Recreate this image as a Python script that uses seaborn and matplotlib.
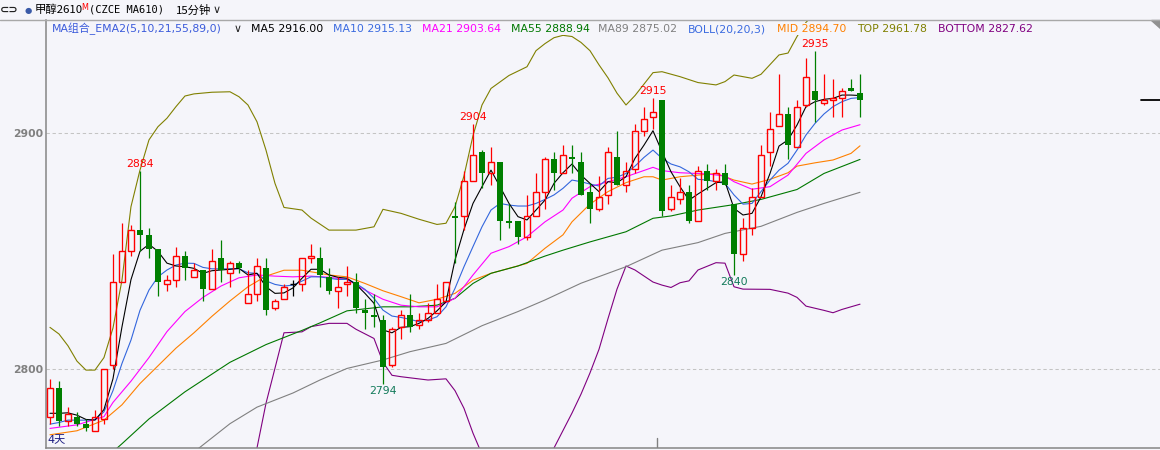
import numpy as np
import pandas as pd
import matplotlib.pyplot as plt
import seaborn as sns
from matplotlib.lines import Line2D
from matplotlib.patches import Polygon

W, H = 1160, 450
BG = '#f5f5fa'
UP = '#ff0000'
DOWN = '#007f00'

# 15 minute candles, oldest first
opens = [2780, 2792, 2778, 2780, 2777, 2774, 2779, 2802, 2837, 2850,
         2859, 2857, 2851, 2836, 2838, 2848, 2839, 2842, 2834, 2847,
         2841, 2845, 2828, 2832, 2843, 2826, 2830, 2836, 2836, 2847,
         2847, 2839, 2833, 2836, 2837, 2825, 2823, 2821, 2802, 2818,
         2823, 2819, 2821, 2824, 2829, 2865, 2865, 2880, 2892, 2883,
         2888, 2863, 2863, 2856, 2865, 2875, 2889, 2883, 2890, 2888,
         2875, 2868, 2874, 2890, 2878, 2885, 2901, 2907, 2914, 2868,
         2872, 2875, 2863, 2884, 2880, 2883, 2870, 2849, 2860, 2873,
         2892, 2903, 2908, 2894, 2912, 2918, 2913, 2914, 2915, 2919,
         2917]
highs = [2796, 2795, 2784, 2782, 2779, 2783, 2800, 2849, 2862, 2861,
         2884, 2860, 2851, 2840, 2852, 2850, 2845, 2842, 2851, 2855,
         2846, 2846, 2842, 2847, 2847, 2830, 2836, 2838, 2847, 2853,
         2852, 2843, 2839, 2844, 2841, 2830, 2832, 2823, 2818, 2825,
         2832, 2824, 2828, 2836, 2837, 2871, 2884, 2904, 2893, 2894,
         2888, 2870, 2863, 2874, 2883, 2890, 2892, 2895, 2895, 2892,
         2879, 2882, 2894, 2901, 2888, 2904, 2911, 2915, 2914, 2878,
         2881, 2878, 2886, 2887, 2885, 2887, 2870, 2864, 2877, 2895,
         2909, 2925, 2911, 2914, 2932, 2935, 2925, 2923, 2919, 2923,
         2925]
lows = [2777, 2776, 2776, 2776, 2774, 2774, 2777, 2800, 2837, 2848,
        2850, 2847, 2831, 2833, 2835, 2838, 2839, 2829, 2834, 2837,
        2835, 2841, 2828, 2829, 2823, 2825, 2830, 2831, 2833, 2845,
        2835, 2832, 2826, 2831, 2824, 2817, 2818, 2794, 2801, 2813,
        2816, 2817, 2820, 2824, 2829, 2845, 2859, 2880, 2877, 2878,
        2855, 2860, 2853, 2855, 2865, 2868, 2876, 2883, 2883, 2874,
        2862, 2867, 2870, 2878, 2875, 2883, 2899, 2902, 2865, 2867,
        2870, 2862, 2863, 2876, 2876, 2878, 2840, 2846, 2857, 2873,
        2886, 2903, 2889, 2894, 2911, 2905, 2912, 2907, 2907, 2918,
        2907]
closes = [2792, 2778, 2781, 2777, 2775, 2780, 2800, 2837, 2850, 2859,
          2857, 2851, 2837, 2838, 2848, 2843, 2842, 2834, 2846, 2842,
          2845, 2843, 2832, 2844, 2825, 2829, 2835, 2836, 2847, 2848,
          2840, 2833, 2835, 2837, 2826, 2824, 2822, 2801, 2817, 2823,
          2818, 2821, 2824, 2830, 2837, 2864, 2880, 2891, 2883, 2888,
          2863, 2862, 2856, 2865, 2875, 2889, 2883, 2891, 2889, 2874,
          2868, 2873, 2892, 2878, 2884, 2901, 2906, 2909, 2867, 2873,
          2875, 2863, 2884, 2880, 2883, 2878, 2849, 2860, 2873, 2891,
          2902, 2908, 2895, 2911, 2924, 2914, 2914, 2915, 2918, 2918,
          2914]

# moving averages, one value per candle
ma5 = [2781.4, 2781.4, 2781.6, 2780.6, 2778.8, 2778.5, 2783.0, 2796.0, 2818.0, 2838.0,
       2850.0, 2853.0, 2850.0, 2845.0, 2843.8, 2843.5, 2842.8, 2840.7, 2841.8, 2842.1,
       2842.4, 2842.8, 2840.0, 2840.7, 2835.0, 2832.2, 2832.4, 2834.5, 2838.6, 2842.4,
       2842.4, 2840.0, 2839.0, 2838.6, 2836.0, 2832.2, 2828.0, 2816.7, 2815.5, 2817.8,
       2818.1, 2819.5, 2821.6, 2824.8, 2828.6, 2846.3, 2859.3, 2870.3, 2877.4, 2884.4,
       2877.4, 2870.3, 2864.7, 2863.3, 2867.5, 2871.7, 2878.8, 2883.3, 2887.0, 2882.3,
       2878.8, 2875.3, 2879.5, 2879.1, 2881.6, 2889.4, 2895.0, 2901.1, 2892.2, 2883.7,
       2877.4, 2871.7, 2874.3, 2876.7, 2879.1, 2879.5, 2868.2, 2865.4, 2866.1, 2873.1,
       2883.0, 2894.6, 2897.2, 2903.5, 2911.3, 2913.4, 2914.4, 2914.8, 2916.2, 2916.2,
       2916.00]
ma10 = [2776.8, 2777.5, 2778.5, 2778.5, 2778.5, 2778.8, 2782.0, 2791.0, 2802.5, 2812.4,
        2825.0, 2833.6, 2839.2, 2842.1, 2844.2, 2845.0, 2844.9, 2843.2, 2842.6, 2842.6,
        2842.6, 2842.6, 2840.9, 2840.7, 2837.5, 2836.0, 2835.3, 2835.7, 2837.4, 2839.2,
        2839.2, 2838.6, 2838.1, 2838.1, 2836.4, 2833.9, 2830.1, 2825.1, 2822.6, 2822.0,
        2821.2, 2820.2, 2820.9, 2822.3, 2826.5, 2834.3, 2843.5, 2852.0, 2860.4, 2867.5,
        2870.3, 2869.6, 2869.2, 2869.2, 2870.3, 2872.0, 2873.9, 2876.7, 2880.2, 2879.5,
        2878.5, 2877.7, 2880.9, 2881.4, 2883.0, 2886.1, 2889.8, 2892.9, 2889.4, 2887.0,
        2885.8, 2883.7, 2880.5, 2880.2, 2879.5, 2878.8, 2873.9, 2870.0, 2870.3, 2875.3,
        2880.2, 2884.4, 2887.3, 2892.9, 2899.3, 2904.2, 2908.2, 2911.3, 2913.4, 2914.8,
        2915.13]

# smoother lines, sampled every few candles
ma21_idx = [0, 3, 6, 7, 9, 11, 13, 15, 17, 19, 21, 23, 25, 27, 29, 31, 33, 35, 37, 39,
            41, 43, 45, 47, 49, 51, 53, 55, 57, 58, 60, 62, 64, 67, 68, 70, 73, 75, 76,
            78, 80, 82, 84, 86, 88, 90]
ma21 = [2775.0, 2776.5, 2780.0, 2786.0, 2795.0, 2805.0, 2816.0, 2824.5, 2830.5, 2835.3,
        2838.8, 2840.0, 2839.5, 2839.2, 2839.5, 2839.0, 2838.1, 2833.6, 2829.7, 2827.2,
        2826.5, 2826.5, 2830.1, 2840.0, 2849.2, 2852.0, 2856.2, 2862.5, 2867.5, 2872.5,
        2877.4, 2879.5, 2881.6, 2885.6, 2884.2, 2883.3, 2882.8, 2881.9, 2879.5, 2876.3,
        2877.4, 2882.3, 2891.5, 2897.2, 2901.4, 2903.64]
ma55_idx = [0, 4, 8, 11, 15, 20, 24, 28, 30, 33, 37, 40, 43, 45, 47, 49, 52, 55, 57, 60,
            64, 67, 69, 72, 76, 79, 83, 86, 90]
ma55 = [2742.0, 2755.0, 2768.5, 2779.0, 2790.5, 2803.0, 2810.5, 2816.5, 2819.7, 2824.8,
        2826.5, 2826.5, 2827.2, 2830.1, 2836.4, 2840.7, 2843.8, 2848.0, 2850.5, 2854.0,
        2858.3, 2864.0, 2865.0, 2867.5, 2869.8, 2872.0, 2876.2, 2883.0, 2888.94]
ma89_idx = [0, 8, 16, 20, 23, 27, 30, 33, 37, 40, 44, 48, 52, 55, 59, 64, 68, 72, 75, 79,
            83, 86, 90]
ma89 = [2720.0, 2743.0, 2765.0, 2777.0, 2784.0, 2790.0, 2795.5, 2800.4, 2804.0, 2807.5,
        2811.0, 2818.5, 2824.5, 2829.4, 2836.5, 2843.5, 2850.5, 2853.7, 2857.6, 2860.6,
        2866.5, 2870.3, 2875.02]

# BOLL(20,20,3)
mid_idx = [0, 3, 6, 8, 10, 12, 14, 16, 18, 20, 22, 24, 26, 28, 30, 31, 33, 35, 37, 39,
           41, 43, 45, 47, 49, 51, 53, 55, 57, 58, 60, 62, 64, 66, 67, 68, 70, 72, 74, 76,
           78, 80, 82, 83, 85, 87, 89, 90]
mid = [2772.3, 2774.0, 2778.5, 2785.0, 2794.0, 2801.5, 2809.0, 2815.5, 2822.5, 2829.0,
       2835.0, 2839.5, 2842.0, 2842.0, 2840.7, 2840.0, 2839.2, 2836.4, 2833.3, 2830.8,
       2828.2, 2829.7, 2832.2, 2837.8, 2840.7, 2842.8, 2844.9, 2851.3, 2857.0, 2862.5,
       2870.0, 2875.3, 2879.1, 2881.6, 2881.6, 2880.2, 2881.6, 2882.3, 2883.0, 2880.2,
       2878.5, 2880.5, 2883.3, 2886.1, 2887.5, 2888.7, 2891.5, 2894.70]
top_idx = [0, 1, 2, 3, 4, 5, 6, 7, 8, 9, 10, 11, 12, 13, 14, 15, 16, 18, 20, 21,
           22, 23, 24, 25, 26, 28, 29, 31, 34, 36, 37, 39, 41, 43, 44, 45, 46, 47, 48, 49,
           51, 53, 54, 55, 56, 57, 58, 59, 60, 61, 62, 63, 64, 65, 67, 68, 70, 72, 74, 75,
           76, 78, 79, 81, 82, 83, 84, 85, 86, 88, 90]
top = [2817.8, 2815.0, 2810.0, 2803.5, 2799.7, 2799.7, 2805.0, 2817.5, 2837.8, 2868.9,
       2884.4, 2897.2, 2902.8, 2906.4, 2911.3, 2915.8, 2916.7, 2917.4, 2917.6, 2915.5,
       2912.0, 2904.9, 2892.9, 2878.8, 2868.6, 2867.5, 2864.1, 2859.0, 2859.0, 2860.4,
       2867.8, 2866.1, 2863.6, 2861.4, 2861.9, 2868.9, 2882.0, 2899.0, 2912.0, 2919.0,
       2924.5, 2928.2, 2935.0, 2938.0, 2940.5, 2941.5, 2941.0, 2938.5, 2935.0, 2929.0,
       2923.5, 2917.0, 2912.0, 2916.0, 2925.7, 2926.1, 2924.0, 2921.5, 2920.5, 2921.9,
       2924.7, 2923.3, 2925.0, 2933.2, 2934.0, 2941.0, 2947.0, 2951.0, 2954.0, 2959.0,
       2961.78]
bottom_idx = [22, 23, 24, 25, 26, 28, 29, 31, 33, 34, 36, 37, 38, 39, 42, 44, 45, 46, 47, 48,
              49, 52, 55, 56, 58, 59, 60, 61, 62, 63, 64, 65, 67, 68, 69, 70, 71, 72, 74, 75,
              76, 77, 80, 82, 83, 84, 86, 87, 88, 90]
bottom = [2755.0, 2766.7, 2785.6, 2800.5, 2815.5, 2815.9, 2818.1, 2819.5, 2819.5, 2817.0,
          2813.1, 2803.0, 2797.5, 2796.9, 2795.5, 2796.0, 2791.0, 2783.5, 2773.0, 2764.0,
          2757.0, 2752.0, 2760.0, 2766.7, 2781.5, 2789.5, 2798.5, 2808.5, 2821.5, 2834.0,
          2843.8, 2842.1, 2837.0, 2835.7, 2834.7, 2836.7, 2837.5, 2842.1, 2845.2, 2845.0,
          2835.0, 2834.0, 2833.9, 2832.3, 2830.5, 2826.8, 2825.0, 2824.0, 2825.4, 2827.62]

peak_idx = [10, 47, 67, 85]
trough_idx = [37, 76]
y_ticks = [2800, 2900]

line_colors = {
    'TOP': '#808000',
    'BOTTOM': '#800080',
    'MID': '#ff8000',
    'MA89': '#808080',
    'MA55': '#007800',
    'MA21': '#ff00ff',
    'MA10': '#3366dd',
    'MA5': '#000000',
}

sns.set_theme(style="white")
plt.rcParams['font.family'] = ['DejaVu Sans', 'Noto Sans CJK SC']
plt.rcParams['axes.unicode_minus'] = False


def px(x, y):
    return x / W, 1 - y / H


fig = plt.figure(figsize=(W / 100, H / 100), dpi=100, facecolor=BG)
ax = fig.add_axes([46 / W, 2 / H, (W - 46) / W, 428 / H], facecolor=BG)

# MA / BOLL lines through seaborn, under the candles
bars = np.arange(len(closes))
series = {
    'TOP': (top_idx, top), 'BOTTOM': (bottom_idx, bottom), 'MID': (mid_idx, mid),
    'MA89': (ma89_idx, ma89), 'MA55': (ma55_idx, ma55), 'MA21': (ma21_idx, ma21),
    'MA10': (bars, ma10), 'MA5': (bars, ma5),
}
df = pd.concat([pd.DataFrame({'bar': idx, 'value': vals, 'line': name})
                for name, (idx, vals) in series.items()], ignore_index=True)
sns.lineplot(data=df, x='bar', y='value', hue='line', hue_order=list(series),
             palette=line_colors, estimator=None, linewidth=0.8, legend=False, ax=ax)

# candles
o, h, l, c = (np.array(a, dtype=float) for a in (opens, highs, lows, closes))
up, down, flat = c > o, c < o, c == o
ax.vlines(bars[down], l[down], h[down], color=DOWN, lw=0.9, zorder=3)
ax.bar(bars[down], (o - c)[down], bottom=c[down], width=0.74, color=DOWN, lw=0, zorder=4)
ax.vlines(bars[up], c[up], h[up], color=UP, lw=0.9, zorder=3)
ax.vlines(bars[up], l[up], o[up], color=UP, lw=0.9, zorder=3)
ax.bar(bars[up], (c - o)[up], bottom=o[up], width=0.66, facecolor='none',
       edgecolor=UP, lw=1.0, zorder=4)
ax.vlines(bars[flat], l[flat], h[flat], color='black', lw=0.9, zorder=3)
ax.hlines(o[flat], bars[flat] - 0.38, bars[flat] + 0.38, color='black', lw=1.0, zorder=4)

for i in peak_idx:
    ax.annotate(f"{highs[i]:.0f}", xy=(i, highs[i]), xytext=(0, 1.5), textcoords='offset points',
                ha='center', va='bottom', color='#ff0000', fontsize=7.8, zorder=5)
for i in trough_idx:
    ax.annotate(f"{lows[i]:.0f}", xy=(i, lows[i]), xytext=(0, -1.5), textcoords='offset points',
                ha='center', va='top', color='#127a5a', fontsize=7.8, zorder=5)

for y in y_ticks:
    ax.axhline(y, color='#c4c4c4', lw=0.75, dashes=(3.2, 2.6), zorder=1)

# last price marker and day separator
ax.plot([0.983, 1.0], [closes[-1], closes[-1]], color='black', lw=1.3,
        transform=ax.get_yaxis_transform(), clip_on=False)
ax.plot([67.5, 67.5], [0, 0.024], color='#808080', lw=1.0, transform=ax.get_xaxis_transform())

ax.set_xlim(-0.44, 123.33)
ax.set_ylim(2766.7, 2948.0)
ax.set_xticks([])
ax.set_yticks(y_ticks)
ax.set_yticklabels([str(t) for t in y_ticks], color='#808080', fontweight='bold', fontsize=7.8)
ax.tick_params(axis='y', length=0, pad=2.2)
ax.set(xlabel='', ylabel='')
for side in ('top', 'right'):
    ax.spines[side].set_visible(False)
for side in ('left', 'bottom'):
    ax.spines[side].set_color('#858585')
    ax.spines[side].set_linewidth(1.1)

# header
fig.add_artist(Line2D([0, 1], [1 - 20 / H] * 2, color='#a8a8a8', lw=1.0))
fig.add_artist(Polygon([px(1151, 20), px(1160, 20), px(1160, 28)], closed=True,
                       color='#909090', transform=fig.transFigure))
fig.text(*px(0, 10), '⊂⊃', fontsize=8, va='center', color='#222222', fontweight='bold')
fig.text(*px(25, 10), '●', fontsize=6, va='center', color='#3a5aa8')
fig.text(*px(35, 10), '甲醇2610', fontsize=8.2, va='center', color='black',
         family=['Noto Sans CJK SC', 'DejaVu Sans'])
fig.text(*px(81, 7), 'M', fontsize=5.8, va='center', color='#ff0000')
fig.text(*px(89, 10), '(CZCE MA610)', fontsize=7.5, va='center', color='black',
         family='DejaVu Sans Mono')
fig.text(*px(176, 10), '15分钟', fontsize=8.2, va='center', color='black',
         family=['Noto Sans CJK SC', 'DejaVu Sans'])
fig.text(*px(213, 10), '∨', fontsize=8, va='center', color='#222222')

legend_items = [
    (52, 'MA组合_EMA2(5,10,21,55,89,0)', '#3b5bdb'),
    (234, '∨', '#222222'),
    (251, f"MA5 {ma5[-1]:.2f}", 'black'),
    (333, f"MA10 {ma10[-1]:.2f}", '#3b6be0'),
    (422, f"MA21 {ma21[-1]:.2f}", '#ff00ff'),
    (511, f"MA55 {ma55[-1]:.2f}", '#007800'),
    (598, f"MA89 {ma89[-1]:.2f}", '#808080'),
    (688, 'BOLL(20,20,3)', '#3b6be0'),
    (777, f"MID {mid[-1]:.2f}", '#ff8000'),
    (857, f"TOP {top[-1]:.2f}", '#808000'),
    (938, f"BOTTOM {bottom[-1]:.2f}", '#800080'),
]
for x, label, color in legend_items:
    fig.text(*px(x, 29), label, fontsize=7.8, va='center', color=color, zorder=6,
             bbox=dict(facecolor=BG, edgecolor='none', pad=0.6))

fig.text(*px(47, 440), '4天', fontsize=8, va='center', color='#1a1a80')

plt.savefig('out.png', dpi=100, facecolor=BG)
